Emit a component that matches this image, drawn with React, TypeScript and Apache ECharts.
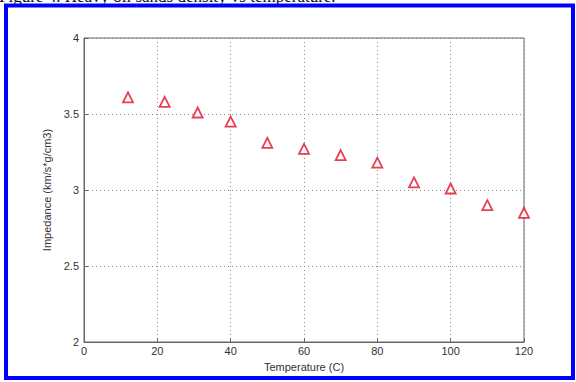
import React, { useEffect, useRef } from "react";
import * as echarts from "echarts";

const temperatures = [12, 22, 31, 40, 50, 60, 70, 80, 90, 100, 110, 120];
const impedance = [3.61, 3.58, 3.51, 3.45, 3.31, 3.27, 3.23, 3.18, 3.05, 3.01, 2.9, 2.85];
const titleText = "Figure 4. Heavy oil sands density vs temperature.";
const xName = "Temperature (C)";
const yName = "Impedance (km/s*g/cm3)";

export default function App() {
  const ref = useRef<HTMLDivElement>(null);
  useEffect(() => {
    if (!ref.current) return;
    const chart = echarts.init(ref.current, null, { renderer: "svg" });
    const data = temperatures.map((t, i) => [t, impedance[i]]);
    const axisLabel = { color: "#333", fontFamily: "Liberation Sans, Arial", fontSize: 11 };
    const splitLine = { show: true, lineStyle: { color: "#888", type: [1, 3] as any, width: 1 } };
    chart.setOption({
      animation: false,
      backgroundColor: "#fff",
      grid: { left: 84, right: 52, top: 38, bottom: 40, show: true, borderColor: "#666", borderWidth: 1, backgroundColor: "transparent" },
      xAxis: {
        type: "value",
        min: 0,
        max: 120,
        interval: 20,
        name: xName,
        nameLocation: "middle",
        nameGap: 19,
        nameTextStyle: { color: "#333", fontFamily: "Liberation Sans, Arial", fontSize: 11 },
        axisLine: { show: true, lineStyle: { color: "#666" } },
        axisTick: { show: true, inside: true, length: 4, lineStyle: { color: "#666" } },
        axisLabel: { ...axisLabel, margin: 3 },
        splitLine,
      },
      yAxis: {
        type: "value",
        min: 2,
        max: 4,
        interval: 0.5,
        name: yName,
        nameLocation: "middle",
        nameGap: 31,
        nameTextStyle: { color: "#333", fontFamily: "Liberation Sans, Arial", fontSize: 11 },
        axisLine: { show: true, lineStyle: { color: "#666" } },
        axisTick: { show: true, inside: true, length: 4, lineStyle: { color: "#666" } },
        axisLabel: { ...axisLabel, margin: 5 },
        splitLine,
      },
      series: [
        {
          type: "scatter",
          data,
          symbol: "triangle",
          symbolSize: 10,
          itemStyle: { color: "#fff", borderColor: "#e0102a", borderWidth: 1.8 },
        },
      ],
      graphic: [
        {
          type: "text",
          left: -1,
          top: -12,
          z: 10,
          style: { text: titleText, font: "17px 'Liberation Serif', serif", fill: "#111" },
        },
        {
          type: "rect",
          z: 20,
          shape: { x: 6, y: 5.5, width: 567, height: 372.5 },
          style: { fill: "none", stroke: "#0000ff", lineWidth: 4 },
        },
      ],
    });
    return () => chart.dispose();
  }, []);
  return (
    <div
      ref={ref}
      style={{ position: "fixed", left: 0, top: 0, width: 576, height: 382 }}
    />
  );
}
